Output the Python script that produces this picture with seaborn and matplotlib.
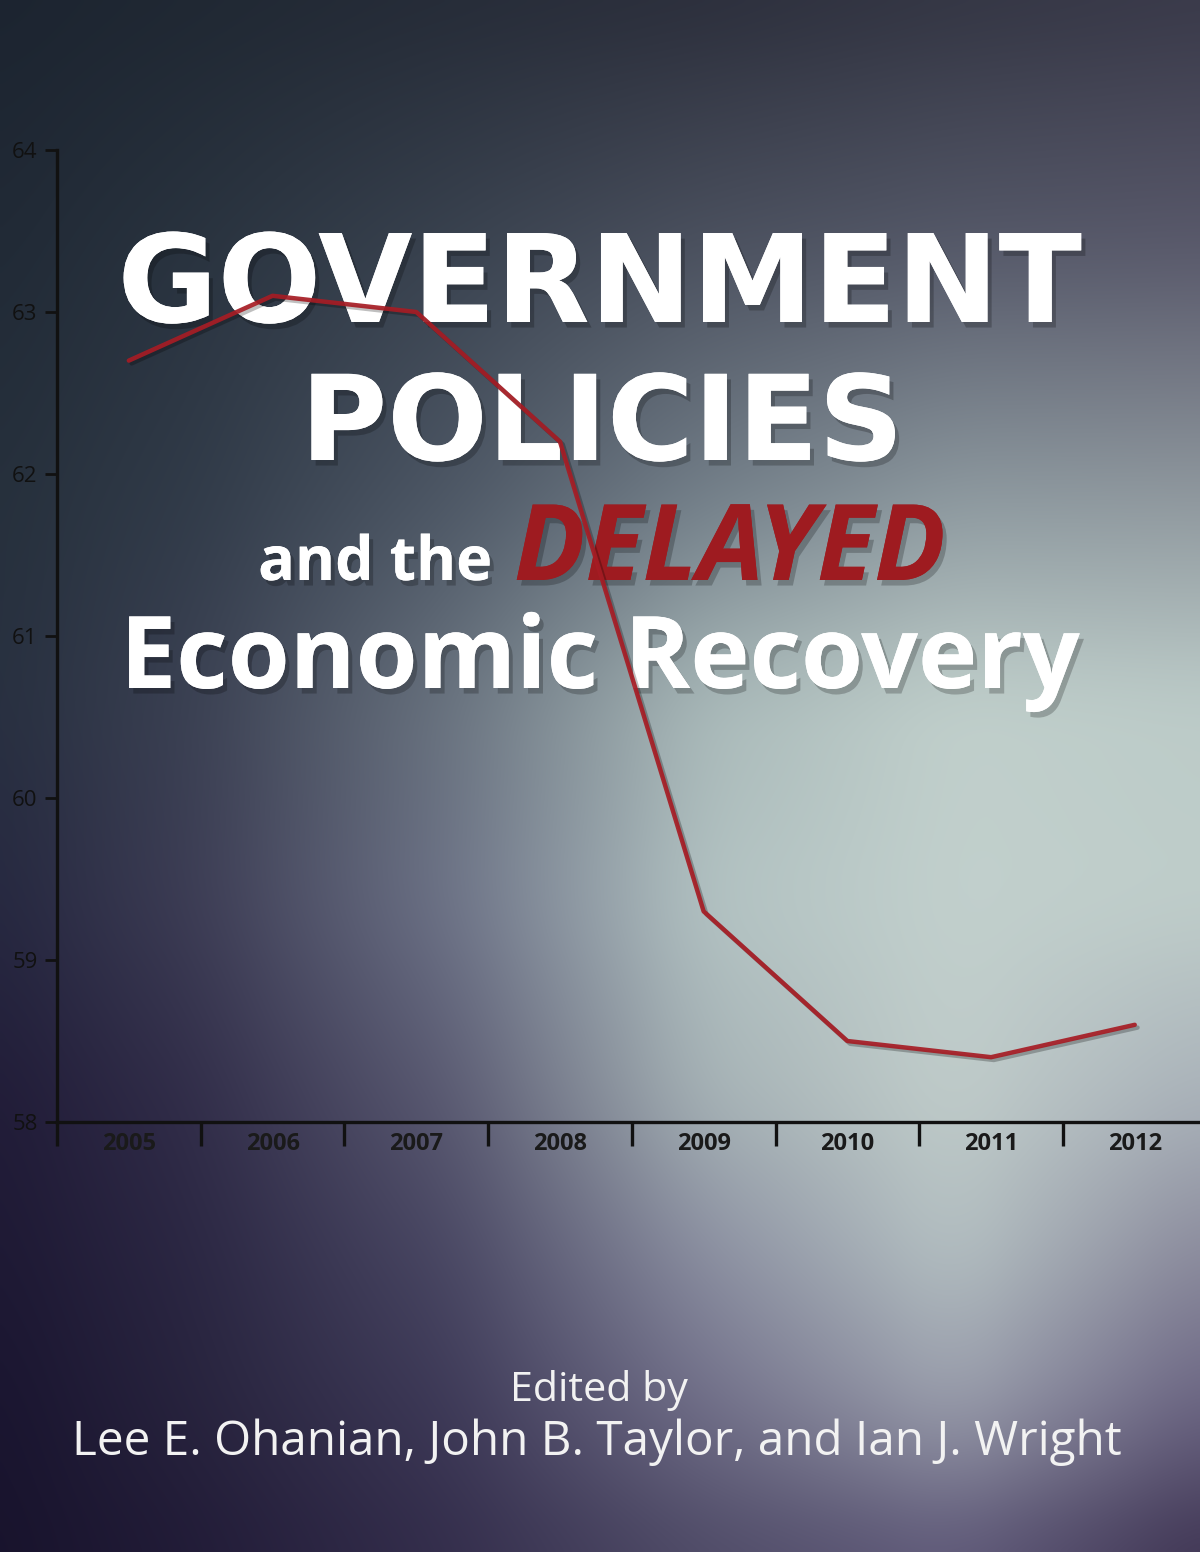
# Book cover chart: employment-population ratio 2005-2012 with title overlay

import numpy as np
import pandas as pd
import matplotlib
matplotlib.use('Agg')
import matplotlib.pyplot as plt
import matplotlib.patheffects as pe
from matplotlib.colors import to_rgb
import seaborn as sns


# Chart data
years = ['2005', '2006', '2007', '2008', '2009', '2010', '2011', '2012']
emp_ratio = [62.7, 63.1, 63.0, 62.2, 59.3, 58.5, 58.4, 58.6]
y_ticks = [58, 59, 60, 61, 62, 63, 64]

title_lines = ['GOVERNMENT', 'POLICIES', 'Economic Recovery']
subtitle_plain = 'and the '
subtitle_red = 'DELAYED'
edited_by = 'Edited by'
editors = 'Lee E. Ohanian, John B. Taylor, and Ian J. Wright'

W, H = 1200, 1552


def make_background(w, h):
    """Bilinear colour field (then softened) for the cover background."""
    grid_x = [0, 200, 450, 700, 950, 1200]
    grid = {
        0:    ['#1c2430', '#202833', '#262c38', '#2c2f3c', '#343644', '#3a3a4a'],
        250:  ['#212a36', '#2a3440', '#3a4350', '#4c5260', '#565a6a', '#5a5a6c'],
        500:  ['#26303c', '#323c4a', '#4e5866', '#74808a', '#8e9aa0', '#90999f'],
        700:  ['#283040', '#3c4254', '#6a7480', '#a8b8b8', '#c0cfcb', '#bccbc8'],
        900:  ['#262840', '#3e3e56', '#6e7488', '#b2c2c2', '#c2d0cd', '#bfcdca'],
        1100: ['#211c38', '#322e4a', '#5a5a72', '#a4b0b4', '#c0ccca', '#a8b0b8'],
        1250: ['#1e1934', '#2c2844', '#4a4864', '#8a8ea0', '#b4c0c2', '#8a8a9c'],
        1400: ['#1a1530', '#28243e', '#3e3a58', '#706e88', '#9a9eac', '#6a6482'],
        1552: ['#18132c', '#221c38', '#342e4c', '#4e4a66', '#5e5878', '#3e3452'],
    }
    step = 4
    xs = np.arange(0, w, step)
    ys = np.arange(0, h, step)
    grid_y = list(grid.keys())

    rows = []
    for gy_ in grid_y:
        cols = np.array([to_rgb(c) for c in grid[gy_]])
        rows.append(np.stack([np.interp(xs, grid_x, cols[:, k]) for k in range(3)], axis=-1))
    rows = np.array(rows)  # (ny, nx, 3)

    img = np.empty((len(ys), len(xs), 3))
    for j in range(len(xs)):
        for k in range(3):
            img[:, j, k] = np.interp(ys, grid_y, rows[:, j, k])

    # soften the creases
    kern = np.ones(25) / 25
    for k in range(3):
        ch = np.pad(img[:, :, k], 12, mode='edge')
        ch = np.apply_along_axis(lambda r: np.convolve(r, kern, mode='valid'), 1, ch)
        ch = np.apply_along_axis(lambda c: np.convolve(c, kern, mode='valid'), 0, ch)
        img[:, :, k] = ch
    return np.clip(img, 0, 1)


def fit_text(ax, fig, text, x, y, target_w, **kw):
    """Place text in figure pixels and scale its size to a target width."""
    t = ax.text(x / W, 1 - y / H, text, transform=fig.transFigure, clip_on=False, **kw)
    renderer = fig.canvas.get_renderer()
    bb = t.get_window_extent(renderer)
    t.set_fontsize(t.get_fontsize() * target_w / bb.width)
    return t


def main():
    sns.set_style('ticks')
    plt.rcParams['font.family'] = ['Open Sans', 'DejaVu Sans']

    fig = plt.figure(figsize=(W / 100, H / 100), dpi=100)

    # background
    bg = fig.add_axes([0, 0, 1, 1], zorder=-1)
    bg.imshow(make_background(W, H), aspect='auto', interpolation='bicubic')
    bg.set_axis_off()

    # main chart
    ax = fig.add_axes([57 / W, 1 - 1122 / H, 1 - 57 / W, (1122 - 150) / H])
    ax.patch.set_alpha(0)

    df = pd.DataFrame({'pos': np.arange(len(years)), 'rate': emp_ratio})
    sns.lineplot(data=df, x='pos', y='rate', ax=ax, color='#a61c24', linewidth=3.2,
                 zorder=6, alpha=0.92,
                 path_effects=[pe.SimpleLineShadow(offset=(2, -2), alpha=0.25), pe.Normal()])

    ax.set_xlim(-0.5, 7.454)
    ax.set_ylim(58, 64)
    ax.set_xlabel('')
    ax.set_ylabel('')

    ax.set_yticks(y_ticks)
    ax.set_yticklabels([str(v) for v in y_ticks])
    ax.tick_params(axis='y', direction='out', length=9, width=2, pad=5,
                   colors='#111111', labelsize=16)

    ax.set_xticks(np.arange(-0.5, len(years) - 1, 1))
    ax.set_xticklabels([])
    ax.set_xticks(np.arange(len(years)), minor=True)
    ax.set_xticklabels(years, minor=True, fontweight='bold')
    ax.tick_params(axis='x', which='major', direction='out', length=17, width=2.4, colors='#111111')
    ax.tick_params(axis='x', which='minor', length=0, pad=7, labelsize=17, colors='#1a1a1a')

    sns.despine(ax=ax)
    for side in ['left', 'bottom']:
        ax.spines[side].set_linewidth(2.4)
        ax.spines[side].set_color('#111111')

    # title block
    shadow = [pe.withSimplePatchShadow(offset=(3, -4), shadow_rgbFace='black', alpha=0.22), pe.Normal()]
    fit_text(ax, fig, title_lines[0], 600, 322, 965, ha='center', va='baseline',
             fontsize=80, fontweight='bold', color='white', family='DejaVu Sans',
             path_effects=shadow, zorder=3)
    fit_text(ax, fig, title_lines[1], 602, 460, 603, ha='center', va='baseline',
             fontsize=70, fontweight='bold', color='white', family='DejaVu Sans',
             path_effects=shadow, zorder=3)
    fit_text(ax, fig, subtitle_plain, 508, 580, 250, ha='right', va='baseline',
             fontsize=50, fontweight='bold', color='white', path_effects=shadow, zorder=3)
    fit_text(ax, fig, subtitle_red, 514, 580, 432, ha='left', va='baseline',
             fontsize=50, fontweight='bold', fontstyle='italic', color='#9e1b20',
             path_effects=shadow, zorder=3)
    fit_text(ax, fig, title_lines[2], 600, 688, 960, ha='center', va='baseline',
             fontsize=70, fontweight='bold', color='white', path_effects=shadow, zorder=3)

    # editors
    fit_text(ax, fig, edited_by, 599, 1401, 178, ha='center', va='baseline',
             fontsize=28, color='#f2f2f2', zorder=3)
    fit_text(ax, fig, editors, 597, 1455, 1050, ha='center', va='baseline',
             fontsize=30, color='#f2f2f2', zorder=3)

    fig.savefig('out.png', dpi=100)


if __name__ == "__main__":
    main()
